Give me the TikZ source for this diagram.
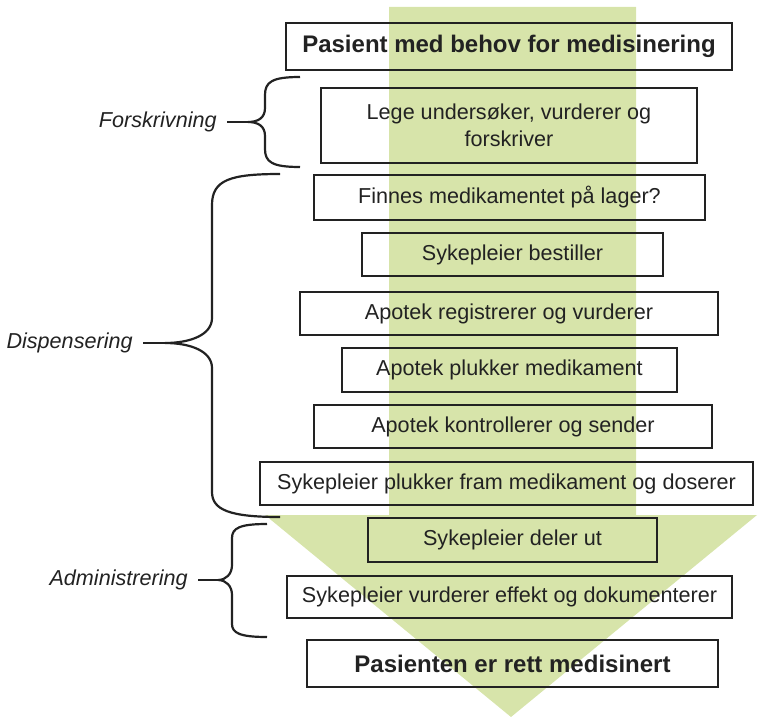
\documentclass[tikz,border=0pt]{standalone}
\usepackage{fontspec}
\setmainfont{Liberation Sans}
\usepackage{tikz}
\definecolor{flowgreen}{RGB}{215,228,170}
\definecolor{inkgray}{RGB}{34,34,34}

\tikzset{
  stepbox/.style={draw=inkgray, line width=1.2pt, minimum height=21.5pt, inner sep=0pt,
    text=inkgray, align=center, font=\fontsize{10.8}{13.5}\selectfont},
  endbox/.style={stepbox, minimum height=23.5pt, font=\bfseries\fontsize{12}{14}\selectfont},
  phase/.style={anchor=east, inner xsep=5pt, inner ysep=0pt, text=inkgray,
    font=\itshape\fontsize{10.8}{13}\selectfont},
  bracepath/.style={draw=inkgray, line width=1.1pt}
}

\begin{document}
\begin{tikzpicture}[x=0.5pt, y=-0.5pt]
        \useasboundingbox (0,0) rectangle (760,717);

        % stor gronn pil i bakgrunnen
        \fill[flowgreen] (389,7) -- (636,7) -- (636,515) -- (757,515) -- (511,717)
            -- (265,515) -- (389,515) -- cycle;

        % trinnene
        \node[endbox, minimum width=223pt] (start) at (509,46.5) {Pasient med behov for medisinering};
        \node[stepbox, minimum width=188pt, minimum height=37.5pt] (lege) at (509,125.5) {Lege undersøker, vurderer og\\forskriver};
        \node[stepbox, minimum width=195.5pt, minimum height=22.5pt] (lager) at (509.5,197.5) {Finnes medikamentet på lager?};
        \node[stepbox, minimum width=150.5pt] (bestill) at (512.5,254.5) {Sykepleier bestiller};
        \node[stepbox, minimum width=209pt] (registr) at (509,313.5) {Apotek registrerer og vurderer};
        \node[stepbox, minimum width=167.5pt, minimum height=22pt] (plukk) at (509.5,370) {Apotek plukker medikament};
        \node[stepbox, minimum width=199pt] (kontroll) at (513,426.5) {Apotek kontrollerer og sender};
        \node[stepbox, minimum width=246.5pt] (doser) at (506.5,483.5) {Sykepleier plukker fram medikament og doserer};
        \node[stepbox, minimum width=144.5pt, minimum height=22pt] (deler) at (512.5,540) {Sykepleier deler ut};
        \node[stepbox, minimum width=222.5pt, minimum height=21pt] (effekt) at (509.5,597) {Sykepleier vurderer effekt og dokumenterer};
        \node[endbox, minimum width=205.5pt] (slutt) at (512.5,663.5) {Pasienten er rett medisinert};

        % fasene til venstre
        \node[phase] (forskr) at (227,122) {Forskrivning};
        \node[phase] (disp) at (143,343) {Dispensering};
        \node[phase] (admin) at (198,580) {Administrering};

        \coordinate (tipF) at (248,122);
        \coordinate (tipD) at (165,343);
        \coordinate (tipA) at (218,580);

        % klammer
        \draw[bracepath] (forskr.east) -- (tipF);
        \draw[bracepath] (300,77) .. controls (272,77) and (265,82) .. (265,95) -- (265,108)
            .. controls (265,118) and (258,122) .. (tipF)
            .. controls (258,122) and (265,126) .. (265,136) -- (265,149)
            .. controls (265,162) and (272,167) .. (300,167);

        \draw[bracepath] (disp.east) -- (tipD);
        \draw[bracepath] (280,174) .. controls (230,174) and (212,180) .. (212,205) -- (212,318)
            .. controls (212,335) and (190,343) .. (tipD)
            .. controls (190,343) and (212,351) .. (212,368) -- (212,492)
            .. controls (212,510) and (230,517) .. (280,517);

        \draw[bracepath] (admin.east) -- (tipA);
        \draw[bracepath] (267,524) .. controls (240,524) and (232,528) .. (232,538) -- (232,565)
            .. controls (232,574) and (226,580) .. (tipA)
            .. controls (226,580) and (232,586) .. (232,595) -- (232,624)
            .. controls (232,633) and (240,637) .. (267,637);

    \end{tikzpicture}
\end{document}
